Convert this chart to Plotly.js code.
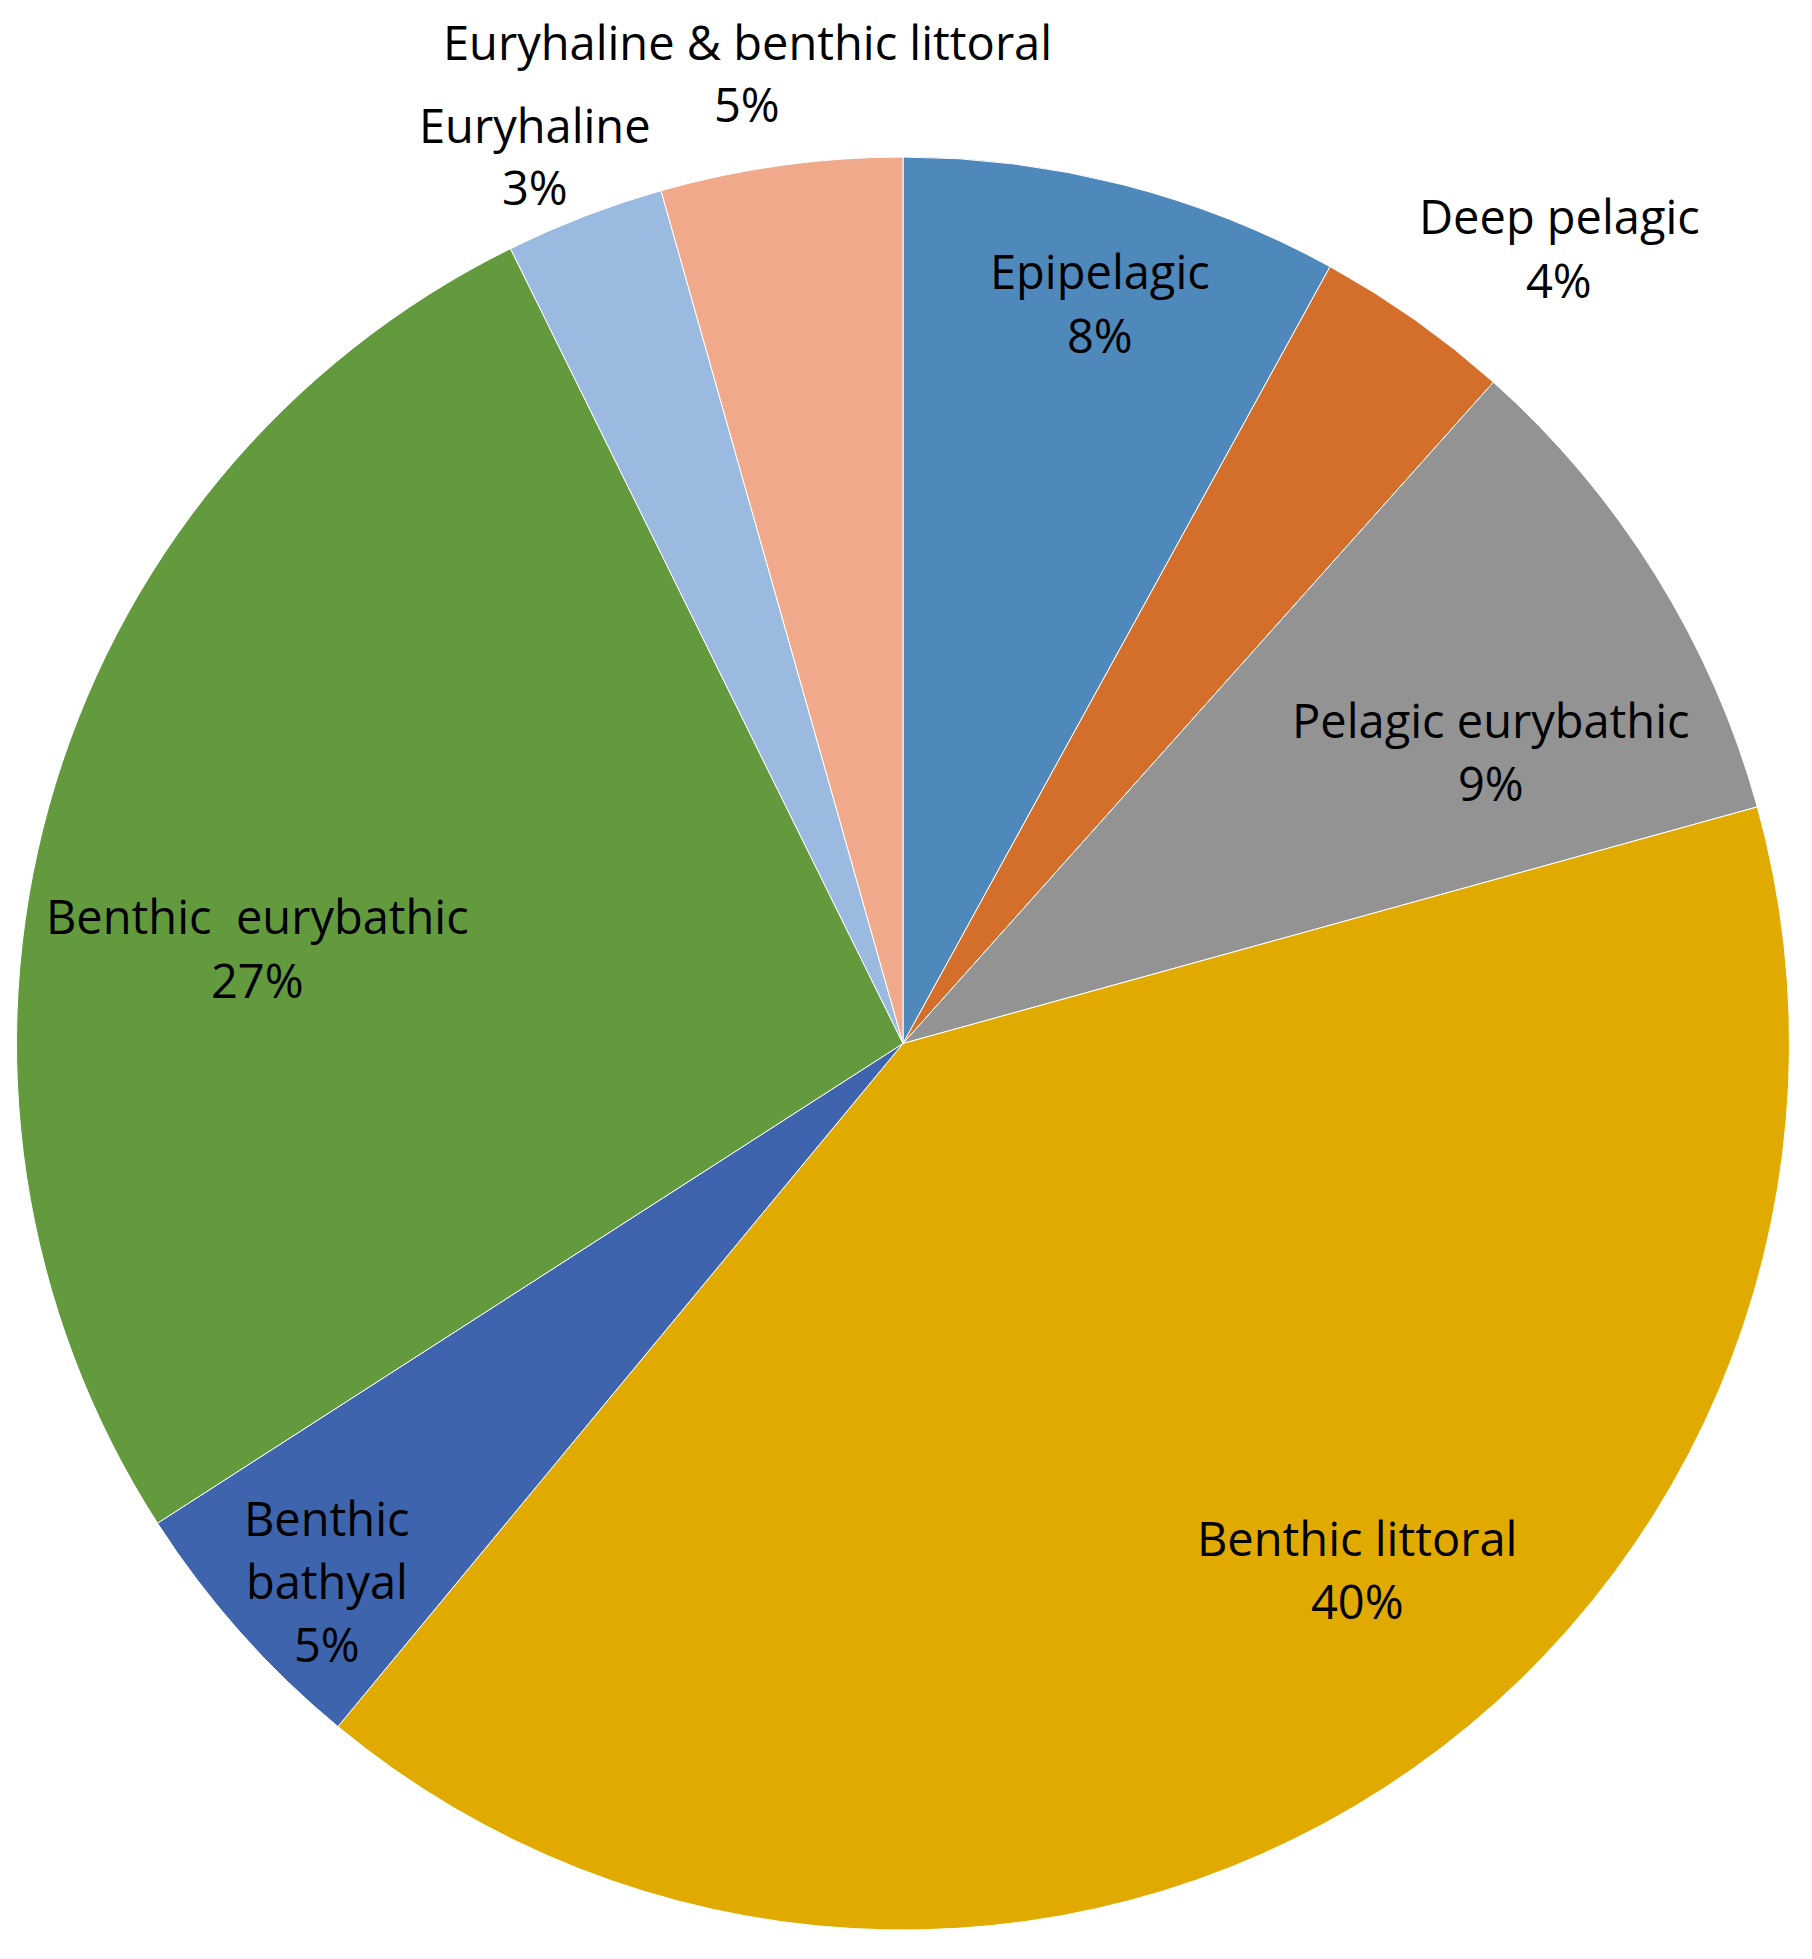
<!DOCTYPE html>
<html>
<head>
<meta charset="utf-8">
<script src="https://cdn.plot.ly/plotly-3.0.1.min.js"></script>
<style>
  html, body { margin: 0; padding: 0; background: #ffffff; }
  #chart { width: 1812px; height: 1959px; }
</style>
</head>
<body>
<div id="chart"></div>
<script>
// ---- Data ----
const categories = [
  "Epipelagic",
  "Deep pelagic",
  "Pelagic eurybathic",
  "Benthic littoral",
  "Benthic bathyal",
  "Benthic  eurybathic",
  "Euryhaline",
  "Euryhaline & benthic littoral"
];
const shares = [8.0, 3.6, 9.1, 40.3, 4.9, 26.8, 2.9, 4.4];
const percentLabels = ["8%", "4%", "9%", "40%", "5%", "27%", "3%", "5%"];
const nameLines = [
  ["Epipelagic"],
  ["Deep pelagic"],
  ["Pelagic eurybathic"],
  ["Benthic littoral"],
  ["Benthic", "bathyal"],
  ["Benthic  eurybathic"],
  ["Euryhaline"],
  ["Euryhaline & benthic littoral"]
];

// ---- Styling / layout (not data) ----
const colors = ["#4F88BB", "#D36F2B", "#939393", "#E1AA00", "#3D64AC", "#639A3E", "#9BBADF", "#F0A98B"];
const W = 1812, H = 1959;
// label block centres in pixels (Excel-style data label placement)
const labelCentres = [
  [1100, 303], [1559, 248], [1491, 751], [1357, 1569],
  [327, 1581], [257, 948], [535, 156], [747, 73]
];
const lineGap = 63;
const fontFamily = "'Open Sans', 'DejaVu Sans', sans-serif";
const fontSize = 47;

const annotations = [];
categories.forEach((c, i) => {
  const lines = nameLines[i].concat([percentLabels[i]]);
  const [cx, cy] = labelCentres[i];
  lines.forEach((t, j) => {
    const y = cy + (j - (lines.length - 1) / 2) * lineGap;
    annotations.push({
      text: t,
      x: cx / W,
      y: 1 - y / H,
      xref: "paper", yref: "paper",
      xanchor: "center", yanchor: "middle",
      showarrow: false,
      font: { family: fontFamily, size: fontSize, color: "#000000" }
    });
  });
});

const cx = 903, cy = 1043.5, r = 886.5;
const trace = {
  type: "pie",
  labels: categories,
  values: shares,
  sort: false,
  direction: "clockwise",
  rotation: 0,
  textinfo: "none",
  hoverinfo: "label+percent",
  marker: { colors: colors, line: { color: "#ffffff", width: 1 } },
  domain: {
    x: [(cx - r) / W, (cx + r) / W],
    y: [(H - cy - r) / H, (H - cy + r) / H]
  },
  showlegend: false
};

const layout = {
  width: W,
  height: H,
  margin: { l: 0, r: 0, t: 0, b: 0, pad: 0 },
  paper_bgcolor: "#ffffff",
  plot_bgcolor: "#ffffff",
  showlegend: false,
  annotations: annotations
};

Plotly.newPlot("chart", [trace], layout, { staticPlot: true, displayModeBar: false });
</script>
</body>
</html>
